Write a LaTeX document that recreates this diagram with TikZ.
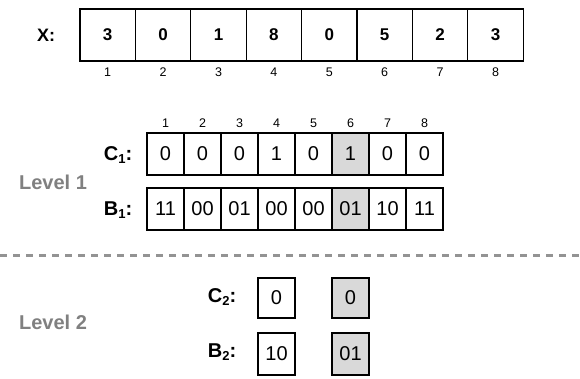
\documentclass[tikz,border=0pt]{standalone}
\usepackage{fontspec}
\setmainfont{Liberation Sans}
\usetikzlibrary{positioning,calc}
\definecolor{cellgray}{RGB}{217,217,217}
\definecolor{levelgray}{RGB}{128,128,128}
\tikzset{
  xcell/.style={
    draw, line width=1.3pt, minimum width=55.4pt, minimum height=52pt,
    inner sep=0pt, font=\fontsize{17}{19}\selectfont\bfseries
  },
  cell/.style={
    draw, line width=1.3pt, minimum width=37pt, minimum height=42pt,
    inner sep=0pt, font=\fontsize{20}{22}\selectfont
  },
  hicell/.style={
    cell, fill=cellgray
  },
  idx/.style={font=\fontsize{12.5}{14}\selectfont, inner sep=0pt},
  rowlabel/.style={font=\fontsize{20}{22}\selectfont\bfseries, inner sep=0pt},
  levellabel/.style={
    font=\fontsize{20}{22}\selectfont\bfseries, text=levelgray, inner sep=0pt
  },
  separator/.style={draw=levelgray!85, line width=3pt, dash pattern=on 7pt off 6pt}
}
\newcommand{\rowname}[2]{#1\raisebox{-0.25ex}{\fontsize{13}{14}\selectfont #2}:}

\begin{document}
\begin{tikzpicture}[x=1pt, y=-1pt]
\useasboundingbox (0,0) rectangle (580,378);

% input array
\node[rowlabel, font=\fontsize{18}{20}\selectfont\bfseries] (xlbl) at (46,35) {X:};
\foreach \v [count=\i] in {3,0,1,8,0,5,2,3} {
  \node[xcell] (x\i) at ({80+55.4*(\i-0.5)},35) {\v};
  \node[idx, below=6pt of x\i] (xi\i) {\i};
}

% level 1
\foreach \i in {1,...,8} {
  \node[idx] (ci\i) at ({147+37*(\i-0.5)},123) {\i};
}
\foreach \v [count=\i] in {0,0,0,1,0,1,0,0} {
  \ifnum\i=6
    \node[hicell] (c\i) at ({147+37*(\i-0.5)},154) {\v};
  \else
    \node[cell] (c\i) at ({147+37*(\i-0.5)},154) {\v};
  \fi
}
\foreach \v [count=\i] in {11,00,01,00,00,01,10,11} {
  \ifnum\i=6
    \node[hicell] (b\i) at ({147+37*(\i-0.5)},209) {\v};
  \else
    \node[cell] (b\i) at ({147+37*(\i-0.5)},209) {\v};
  \fi
}
\node[rowlabel] (clbl1) at (118,155) {\rowname{C}{1}};
\node[rowlabel] (blbl1) at (118,210) {\rowname{B}{1}};
\node[levellabel] (lev1) at (53,182) {Level 1};

% separator
\coordinate (sepL) at (0,255);
\coordinate (sepR) at (580,255);
\draw[separator] (sepL) -- (sepR);

% level 2
\node[cell, minimum height=40pt] (cc4) at (c4 |- 0,298) {0};
\node[hicell, minimum height=40pt] (cc6) at (c6 |- 0,298) {0};
\node[cell] (bb4) at (c4 |- 0,354) {10};
\node[hicell] (bb6) at (c6 |- 0,354) {01};
\node[rowlabel] (clbl2) at (222,297) {\rowname{C}{2}};
\node[rowlabel] (blbl2) at (222,352) {\rowname{B}{2}};
\node[levellabel] (lev2) at (53,322) {Level 2};
\end{tikzpicture}
\end{document}
